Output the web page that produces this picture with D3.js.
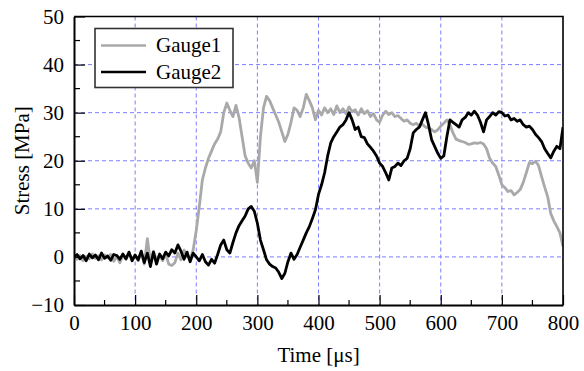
<!DOCTYPE html>
<html>
<head>
<meta charset="utf-8">
<script src="https://cdn.jsdelivr.net/npm/d3@7"></script>
<style>
  html, body { margin: 0; padding: 0; background: #fff; }
</style>
</head>
<body>
<div id="chart"></div>
<script>
// time axis, one reading every 5 us
const timeStep = 5;
const gauge1 = [
  0.2, -0.5, 0.3, -0.8, 0.1, -0.4, 0.6, -0.3, 0.2, -0.6,
  0.4, -0.2, 0.5, -0.9, 0.1, -1.2, 0.3, -0.5, 0.8, -0.4,
  0.2, -0.8, 1.0, -1.5, 3.8, -1.0, 1.2, -0.6, 0.4, -0.8,
  0.6, -1.5, -1.8, -1.2, 0.8, -0.6, 1.4, 0.2, -0.5, 1.5,
  5.5, 10.5, 16, 18.5, 20.5, 22, 23.5, 24.5, 26, 30,
  32, 30.5, 29.2, 31.5, 29, 25, 21, 19.5, 18.5, 20,
  15.5, 25, 31, 33.4, 32.5, 31, 29.5, 28, 26, 24,
  25.5, 28, 31, 30.5, 29.2, 31, 33.8, 32.5, 31, 28.5,
  30.5, 29.5, 31, 30, 30.8, 29.6, 31.4, 30, 30.8, 29.8,
  31.2, 30.2, 30.6, 29.5, 30.8, 29.8, 30.4, 29.2, 29.8, 28.5,
  28, 29.5, 30.3, 29.6, 30, 29.2, 29.4, 28.8, 28.2, 28.5,
  27.8, 27.5, 27.8, 27.2, 27.6, 27, 26.8, 26.5, 26, 26.4,
  27.2, 27.8, 28.5, 27.5, 25.8, 24.5, 24.2, 24, 23.8, 23.4,
  23.5, 23.7, 23.6, 23.8, 23.5, 22.5, 20.5, 19.5, 18.8, 17,
  15, 14.4, 13.6, 13.8, 12.9, 13.4, 14, 15.5, 17.5, 19.6,
  19.4, 19.9, 19, 16.7, 14.5, 12.5, 9, 7.5, 6.3, 5,
  2.2
];
const gauge2 = [
  0, 0.5, -0.4, 0.3, -0.8, 0.6, -0.2, 0.4, -0.6, 0.8,
  -0.3, 0.2, -0.7, 0.5, 0.3, -0.5, 0.6, -0.4, 1.0, -0.8,
  0.4, -0.6, 1.2, -1.2, 0.8, -2.0, 1.0, -1.5, 0.6, -0.4,
  1.0, 0.2, 1.5, 0.8, 2.5, 1.2, -0.5, 1.0, -1.0, 0.8,
  0, -0.8, 0.5, -1.0, -1.7, -0.5, -1.3, 0.5, 2.5, 3.5,
  1.5, 0.8, 3, 5, 6.5, 7.5, 8.5, 10, 10.5, 9.5,
  7, 3.5, 1.5, -0.6, -1.5, -2, -2.3, -3.2, -4.5, -3.4,
  -1, 0.8, -0.5, 0.5, 2, 3.5, 5, 6.3, 8, 9.8,
  13, 15, 17.5, 21, 23.7, 25, 26, 27, 27.5, 28.5,
  30, 28.5, 26.5, 27, 25, 24.8, 23.5, 22.8, 22, 21,
  19.5, 18.8, 17.5, 16, 18.5, 18.8, 19.5, 19, 20, 20.5,
  22.5, 25.8, 26.5, 27, 28.5, 30, 27.5, 24.4, 23, 21.6,
  20.5, 21, 25, 28.5, 28, 27.5, 27, 28.5, 29, 30,
  29.5, 30.3, 29.5, 28, 26, 28.5, 29.2, 30, 29.5, 30.2,
  30, 29.3, 29.5, 28.5, 28.8, 28.2, 28.5, 27.5, 27, 27.2,
  26.5, 25.5, 24.8, 24, 22.5, 21.5, 20.6, 22, 23, 22.5,
  27
];
const seriesNames = ['Gauge1', 'Gauge2'];
const seriesColors = ['#a9a9a9', '#000000'];
const xTicks = [0, 100, 200, 300, 400, 500, 600, 700, 800];
const yTicks = [-10, 0, 10, 20, 30, 40, 50];

const width = 584, height = 371;
const margin = { top: 16.5, right: 21, bottom: 66, left: 74 };
const w = width - margin.left - margin.right;
const h = height - margin.top - margin.bottom;
const serif = "'Liberation Serif', 'Times New Roman', Times, 'Nimbus Roman', 'Nimbus Roman No9 L', FreeSerif, 'Noto Serif', 'DejaVu Serif', Georgia, serif";

const svg = d3.select('#chart').append('svg')
  .attr('width', width)
  .attr('height', height)
  .style('font-family', serif);

const g = svg.append('g')
  .attr('transform', `translate(${margin.left},${margin.top})`);

const x = d3.scaleLinear().domain([0, 800]).range([0, w]);
const y = d3.scaleLinear().domain([-10, 50]).range([h, 0]);

// dashed grid
g.append('g').selectAll('line')
  .data(xTicks.slice(1, -1))
  .enter().append('line')
  .attr('x1', d => x(d)).attr('x2', d => x(d))
  .attr('y1', 0).attr('y2', h)
  .attr('stroke', '#7d7dff').attr('stroke-width', 1)
  .attr('stroke-dasharray', '4,3');
g.append('g').selectAll('line')
  .data(yTicks.slice(1, -1))
  .enter().append('line')
  .attr('x1', 0).attr('x2', w)
  .attr('y1', d => y(d)).attr('y2', d => y(d))
  .attr('stroke', '#7d7dff').attr('stroke-width', 1)
  .attr('stroke-dasharray', '4,3');

// curves
svg.append('clipPath').attr('id', 'clip')
  .append('rect').attr('width', w).attr('height', h);

const line = d3.line()
  .x((d, i) => x(i * timeStep))
  .y(d => y(d));

const plot = g.append('g').attr('clip-path', 'url(#clip)');
[gauge1, gauge2].forEach((s, i) => {
  plot.append('path')
    .datum(s)
    .attr('fill', 'none')
    .attr('stroke', seriesColors[i])
    .attr('stroke-width', 2.8)
    .attr('stroke-linejoin', 'round')
    .attr('d', line);
});

// axes, ticks pointing inward
const xAxis = g.append('g')
  .attr('transform', `translate(0,${h})`)
  .call(d3.axisBottom(x).tickValues(xTicks).tickSize(-10).tickPadding(18).tickSizeOuter(0));
const yAxis = g.append('g')
  .call(d3.axisLeft(y).tickValues(yTicks).tickSize(-11).tickPadding(10).tickSizeOuter(0));

[xAxis, yAxis].forEach(a => {
  a.attr('font-family', null).attr('font-size', null);
  a.select('.domain').attr('stroke', '#000').attr('stroke-width', 2);
  a.selectAll('.tick line').attr('stroke', '#000').attr('stroke-width', 1.2);
  a.selectAll('text').attr('fill', '#000').style('font-size', '21px');
});
xAxis.selectAll('.tick text').attr('dy', '0.35em');

// minor ticks
g.append('g').selectAll('line')
  .data(d3.range(50, 800, 100))
  .enter().append('line')
  .attr('x1', d => x(d)).attr('x2', d => x(d))
  .attr('y1', h).attr('y2', h - 5)
  .attr('stroke', '#000').attr('stroke-width', 1.2);
g.append('g').selectAll('line')
  .data(d3.range(-5, 50, 10))
  .enter().append('line')
  .attr('x1', 0).attr('x2', 6)
  .attr('y1', d => y(d)).attr('y2', d => y(d))
  .attr('stroke', '#000').attr('stroke-width', 1.2);

// top and right frame
g.append('path')
  .attr('d', `M0,0H${w}V${h}`)
  .attr('fill', 'none')
  .attr('stroke', '#000')
  .attr('stroke-width', 1.6);

// axis titles
svg.append('text')
  .attr('x', margin.left + w / 2)
  .attr('y', 362)
  .attr('text-anchor', 'middle')
  .style('font-size', '21px')
  .text('Time [\u03bcs]');
svg.append('text')
  .attr('transform', `translate(29,${margin.top + h / 2}) rotate(-90)`)
  .attr('text-anchor', 'middle')
  .style('font-size', '21px')
  .text('Stress [MPa]');

// legend
const legend = g.append('g').attr('transform', 'translate(21,12)');
legend.append('rect')
  .attr('width', 138).attr('height', 59)
  .attr('fill', '#fff')
  .attr('stroke', '#333').attr('stroke-width', 1.6);
seriesNames.forEach((name, i) => {
  const ly = 17 + i * 26.5;
  legend.append('line')
    .attr('x1', 6).attr('x2', 51)
    .attr('y1', ly).attr('y2', ly)
    .attr('stroke', seriesColors[i]).attr('stroke-width', 2.6);
  legend.append('text')
    .attr('x', 61).attr('y', ly)
    .attr('dy', '0.33em')
    .style('font-size', '21px')
    .text(name);
});
</script>
</body>
</html>
